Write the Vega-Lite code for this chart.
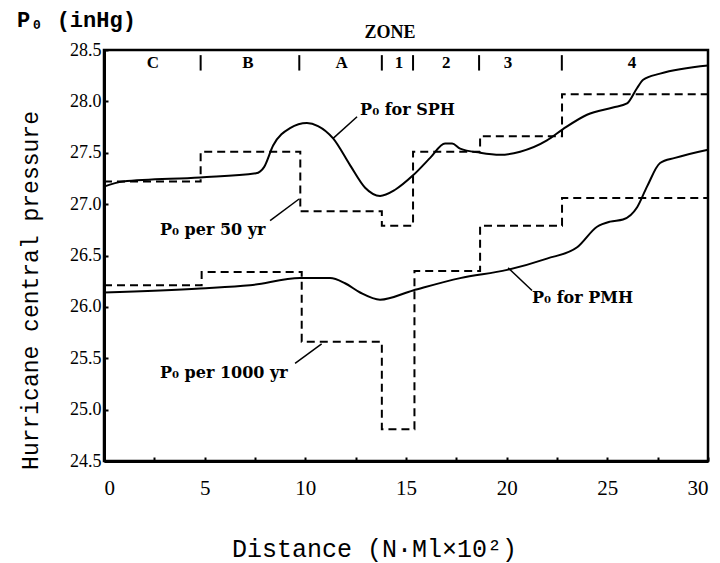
{
  "$schema": "https://vega.github.io/schema/vega-lite/v6.json",
  "width": 604,
  "height": 411,
  "autosize": {"type": "none"},
  "padding": {"left": 104, "top": 50, "right": 12, "bottom": 102},
  "background": "white",
  "config": {
    "view": {"stroke": "black", "strokeWidth": 2.5},
    "axis": {"grid": false, "domainColor": "black", "domainWidth": 3, "tickColor": "black", "labelColor": "black", "titleColor": "black"}
  },
  "datasets": {
    "steps": [
      {"series": "50yr", "x": 0, "y": 27.22},
      {"series": "50yr", "x": 4.8, "y": 27.51},
      {"series": "50yr", "x": 9.75, "y": 26.93},
      {"series": "50yr", "x": 13.8, "y": 26.79},
      {"series": "50yr", "x": 15.35, "y": 27.51},
      {"series": "50yr", "x": 18.68, "y": 27.66},
      {"series": "50yr", "x": 22.75, "y": 28.07},
      {"series": "50yr", "x": 30, "y": 28.07},
      {"series": "1000yr", "x": 0, "y": 26.21},
      {"series": "1000yr", "x": 4.85, "y": 26.34},
      {"series": "1000yr", "x": 9.82, "y": 25.66},
      {"series": "1000yr", "x": 13.8, "y": 24.81},
      {"series": "1000yr", "x": 15.42, "y": 26.35},
      {"series": "1000yr", "x": 18.68, "y": 26.79},
      {"series": "1000yr", "x": 22.75, "y": 27.06},
      {"series": "1000yr", "x": 30, "y": 27.06}
    ],
    "curves": [
      {"series": "SPH", "x": 0, "y": 27.17},
      {"series": "SPH", "x": 0.94, "y": 27.22},
      {"series": "SPH", "x": 4.77, "y": 27.26},
      {"series": "SPH", "x": 7.55, "y": 27.3},
      {"series": "SPH", "x": 7.95, "y": 27.36},
      {"series": "SPH", "x": 8.4, "y": 27.57},
      {"series": "SPH", "x": 9.24, "y": 27.74},
      {"series": "SPH", "x": 10.08, "y": 27.79},
      {"series": "SPH", "x": 10.63, "y": 27.76},
      {"series": "SPH", "x": 11.38, "y": 27.64},
      {"series": "SPH", "x": 12.22, "y": 27.38},
      {"series": "SPH", "x": 12.97, "y": 27.16},
      {"series": "SPH", "x": 13.71, "y": 27.08},
      {"series": "SPH", "x": 14.46, "y": 27.14},
      {"series": "SPH", "x": 15.35, "y": 27.28},
      {"series": "SPH", "x": 16.2, "y": 27.45},
      {"series": "SPH", "x": 16.94, "y": 27.59},
      {"series": "SPH", "x": 17.29, "y": 27.59},
      {"series": "SPH", "x": 17.69, "y": 27.54},
      {"series": "SPH", "x": 18.68, "y": 27.5},
      {"series": "SPH", "x": 19.67, "y": 27.48},
      {"series": "SPH", "x": 20.67, "y": 27.51},
      {"series": "SPH", "x": 22.0, "y": 27.62},
      {"series": "SPH", "x": 22.8, "y": 27.73},
      {"series": "SPH", "x": 23.99, "y": 27.87},
      {"series": "SPH", "x": 25.28, "y": 27.94},
      {"series": "SPH", "x": 25.98, "y": 27.98},
      {"series": "SPH", "x": 26.48, "y": 28.13},
      {"series": "SPH", "x": 26.78, "y": 28.21},
      {"series": "SPH", "x": 27.62, "y": 28.27},
      {"series": "SPH", "x": 30, "y": 28.35},
      {"series": "PMH", "x": 0, "y": 26.14},
      {"series": "PMH", "x": 4.77, "y": 26.18},
      {"series": "PMH", "x": 7.25, "y": 26.21},
      {"series": "PMH", "x": 9.74, "y": 26.28},
      {"series": "PMH", "x": 11.23, "y": 26.28},
      {"series": "PMH", "x": 11.97, "y": 26.23},
      {"series": "PMH", "x": 12.72, "y": 26.14},
      {"series": "PMH", "x": 13.71, "y": 26.07},
      {"series": "PMH", "x": 15.35, "y": 26.16},
      {"series": "PMH", "x": 17.69, "y": 26.28},
      {"series": "PMH", "x": 20.02, "y": 26.36},
      {"series": "PMH", "x": 22.0, "y": 26.47},
      {"series": "PMH", "x": 23.5, "y": 26.58},
      {"series": "PMH", "x": 24.49, "y": 26.78},
      {"series": "PMH", "x": 25.14, "y": 26.83},
      {"series": "PMH", "x": 25.78, "y": 26.85},
      {"series": "PMH", "x": 26.48, "y": 26.97},
      {"series": "PMH", "x": 26.97, "y": 27.17},
      {"series": "PMH", "x": 27.62, "y": 27.4},
      {"series": "PMH", "x": 28.36, "y": 27.45},
      {"series": "PMH", "x": 30, "y": 27.53}
    ],
    "leaders": [
      {"x": 11.38, "y": 27.64, "x2": 12.57, "y2": 27.85},
      {"x": 8.25, "y": 26.84, "x2": 9.69, "y2": 27.05},
      {"x": 9.49, "y": 25.45, "x2": 10.81, "y2": 25.64},
      {"x": 20.07, "y": 26.38, "x2": 21.26, "y2": 26.16}
    ],
    "notes": [
      {"x": 12.72, "y": 27.92, "label": "P₀ for SPH"},
      {"x": 2.78, "y": 26.75, "label": "P₀ per 50 yr"},
      {"x": 2.78, "y": 25.36, "label": "P₀ per 1000 yr"},
      {"x": 21.26, "y": 26.09, "label": "P₀ for PMH"}
    ],
    "zones": [
      {"x": 2.43, "label": "C"},
      {"x": 7.15, "label": "B"},
      {"x": 11.8, "label": "A"},
      {"x": 14.65, "label": "1"},
      {"x": 17.0, "label": "2"},
      {"x": 20.07, "label": "3"},
      {"x": 26.23, "label": "4"}
    ],
    "dividers": [
      {"x": 4.8}, {"x": 9.7}, {"x": 13.8}, {"x": 15.35}, {"x": 18.63}, {"x": 22.74}
    ],
    "zonehead": [
      {"x": 14.2, "y": 28.665, "label": "ZONE"}
    ],
    "unit": [
      {"x": -4.32, "y": 28.79, "label": "P₀ (inHg)"}
    ]
  },
  "layer": [
    {
      "data": {"name": "steps"},
      "mark": {"type": "line", "interpolate": "step-after", "color": "black", "strokeWidth": 2, "strokeDash": [8, 5]},
      "encoding": {
        "x": {"field": "x", "type": "quantitative", "scale": {"domain": [0, 30], "nice": false},
          "axis": {"values": [0, 2.5, 5, 7.5, 10, 12.5, 15, 17.5, 20, 22.5, 25, 27.5, 30],
            "labelExpr": "datum.value % 5 == 0 ? datum.label : ''",
            "tickSize": -4, "tickWidth": 2, "labelFont": "Liberation Serif", "labelFontSize": 21, "labelPadding": 20,
            "title": "Distance  (N·Ml×10²)", "titleFont": "Liberation Mono", "titleFontSize": 25, "titleFontWeight": "normal",
            "titleX": 270, "titleY": 87, "titleBaseline": "middle"}},
        "y": {"field": "y", "type": "quantitative", "scale": {"domain": [24.5, 28.5], "nice": false, "zero": false},
          "axis": {"values": [24.5, 25, 25.5, 26, 26.5, 27, 27.5, 28, 28.5], "format": ".1f",
            "tickSize": -4, "tickWidth": 2, "labelFont": "Liberation Serif", "labelFontSize": 18, "labelPadding": 7,
            "title": "Hurricane central pressure", "titleFont": "Liberation Mono", "titleFontSize": 23, "titleFontWeight": "normal",
            "titleX": -74, "titleY": 240, "titleBaseline": "middle"}},
        "detail": {"field": "series"}
      }
    },
    {
      "data": {"name": "curves"},
      "mark": {"type": "line", "interpolate": "monotone", "color": "black", "strokeWidth": 2},
      "encoding": {
        "x": {"field": "x", "type": "quantitative"},
        "y": {"field": "y", "type": "quantitative"},
        "detail": {"field": "series"}
      }
    },
    {
      "data": {"name": "leaders"},
      "mark": {"type": "rule", "color": "black", "strokeWidth": 1.5},
      "encoding": {
        "x": {"field": "x", "type": "quantitative"},
        "y": {"field": "y", "type": "quantitative"},
        "x2": {"field": "x2"},
        "y2": {"field": "y2"}
      }
    },
    {
      "data": {"name": "notes"},
      "mark": {"type": "text", "align": "left", "baseline": "middle", "font": "DejaVu Serif", "fontSize": 16, "fontWeight": "bold", "color": "black"},
      "encoding": {
        "x": {"field": "x", "type": "quantitative"},
        "y": {"field": "y", "type": "quantitative"},
        "text": {"field": "label"}
      }
    },
    {
      "data": {"name": "zones"},
      "mark": {"type": "text", "align": "center", "baseline": "middle", "font": "Liberation Serif", "fontSize": 17, "fontWeight": "bold", "color": "black"},
      "encoding": {
        "x": {"field": "x", "type": "quantitative"},
        "y": {"datum": 28.37, "type": "quantitative"},
        "text": {"field": "label"}
      }
    },
    {
      "data": {"name": "dividers"},
      "mark": {"type": "rule", "color": "black", "strokeWidth": 2},
      "encoding": {
        "x": {"field": "x", "type": "quantitative"},
        "y": {"datum": 28.3, "type": "quantitative"},
        "y2": {"datum": 28.45}
      }
    },
    {
      "data": {"name": "zonehead"},
      "mark": {"type": "text", "align": "center", "baseline": "middle", "font": "Liberation Serif", "fontSize": 18, "fontWeight": "bold", "color": "black"},
      "encoding": {
        "x": {"field": "x", "type": "quantitative"},
        "y": {"field": "y", "type": "quantitative"},
        "text": {"field": "label"}
      }
    },
    {
      "data": {"name": "unit"},
      "mark": {"type": "text", "align": "left", "baseline": "middle", "font": "Liberation Mono", "fontSize": 22, "fontWeight": "bold", "color": "black"},
      "encoding": {
        "x": {"field": "x", "type": "quantitative"},
        "y": {"field": "y", "type": "quantitative"},
        "text": {"field": "label"}
      }
    }
  ]
}
